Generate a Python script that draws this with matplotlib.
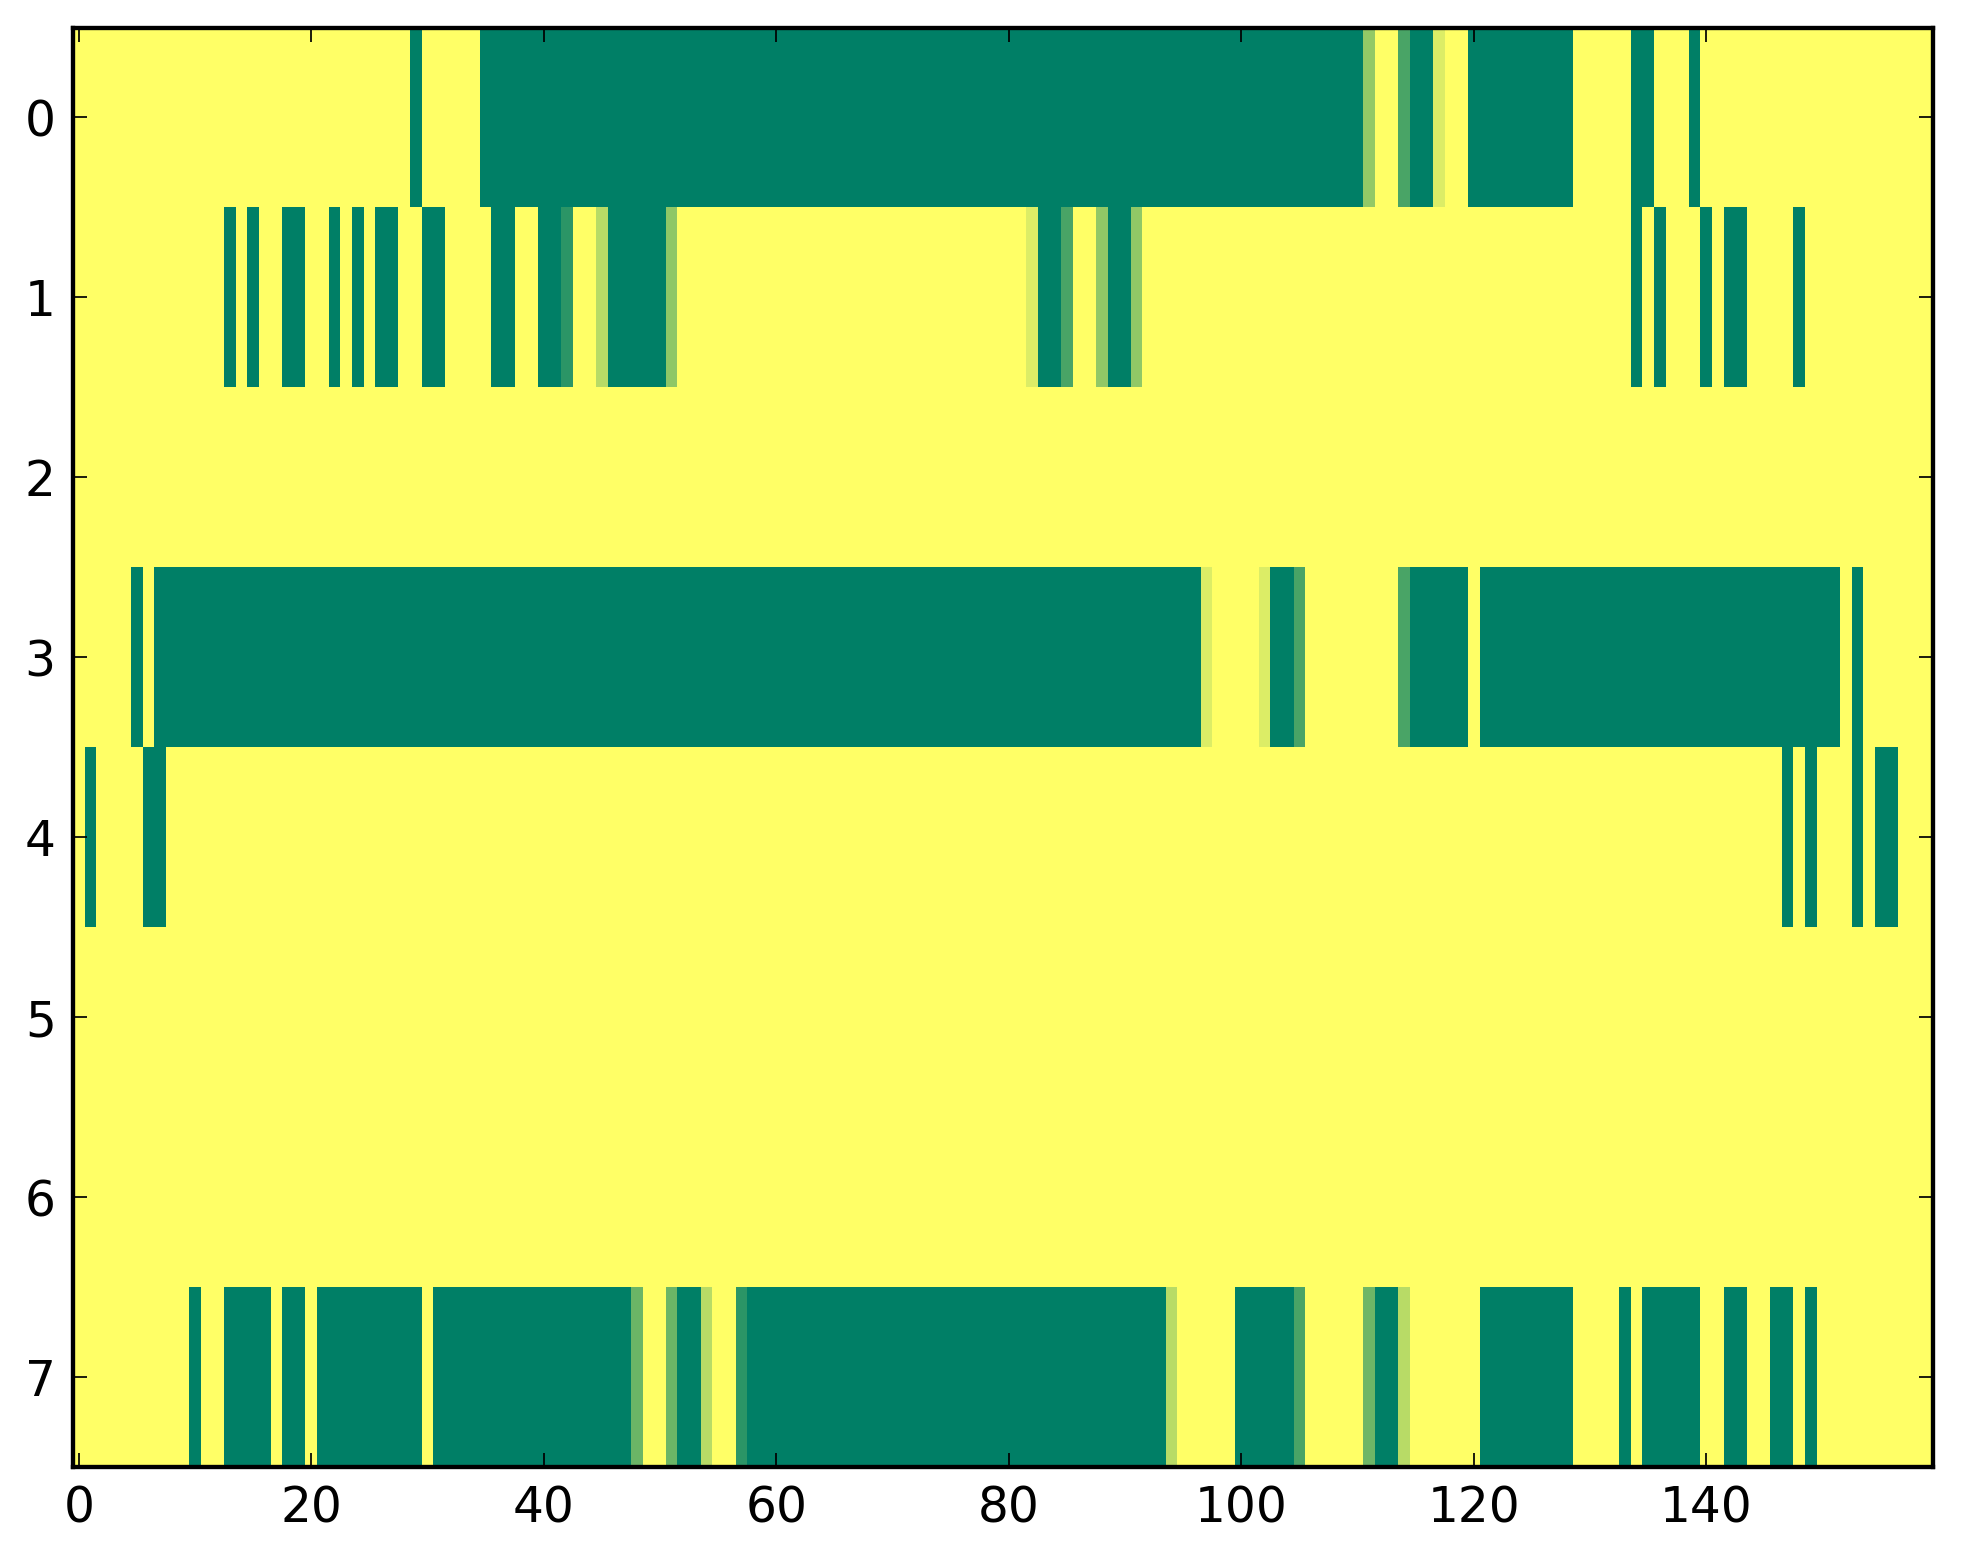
#!/usr/bin/env python

import sys

import matplotlib
matplotlib.use("Agg")
import matplotlib.pyplot as plt
import numpy as np


N_ROWS = 8
N_COLS = 160

# Cells that are not 1.0 (yellow): (first column, last column, value) per row.
row0 = [(29, 29, 0.0), (35, 110, 0.0), (111, 111, 0.58), (114, 114, 0.29),
        (115, 116, 0.0), (117, 117, 0.86), (120, 128, 0.0), (134, 135, 0.0),
        (139, 139, 0.0)]
row1 = [(13, 13, 0.0), (15, 15, 0.0), (18, 19, 0.0), (22, 22, 0.0),
        (24, 24, 0.0), (26, 27, 0.0), (30, 31, 0.0), (36, 37, 0.0),
        (40, 41, 0.0), (42, 42, 0.17), (45, 45, 0.72), (46, 50, 0.0),
        (51, 51, 0.56), (82, 82, 0.86), (83, 84, 0.0), (85, 85, 0.29),
        (88, 88, 0.57), (89, 90, 0.0), (91, 91, 0.57), (134, 134, 0.0),
        (136, 136, 0.0), (140, 140, 0.0), (142, 143, 0.0), (148, 148, 0.0)]
row2 = []
row3 = [(5, 5, 0.0), (7, 96, 0.0), (97, 97, 0.86), (102, 102, 0.86),
        (103, 104, 0.0), (105, 105, 0.29), (114, 114, 0.29), (115, 119, 0.0),
        (121, 151, 0.0), (153, 153, 0.0)]
row4 = [(1, 1, 0.0), (6, 7, 0.0), (147, 147, 0.0), (149, 149, 0.0),
        (153, 153, 0.0), (155, 156, 0.0)]
row5 = []
row6 = []
row7 = [(10, 10, 0.0), (13, 16, 0.0), (18, 19, 0.0), (21, 29, 0.0),
        (31, 47, 0.0), (48, 48, 0.42), (51, 51, 0.42), (52, 53, 0.0),
        (54, 54, 0.72), (57, 57, 0.17), (58, 93, 0.0), (94, 94, 0.72),
        (100, 104, 0.0), (105, 105, 0.29), (111, 111, 0.43), (112, 113, 0.0),
        (114, 114, 0.72), (121, 128, 0.0), (133, 133, 0.0), (135, 139, 0.0),
        (142, 143, 0.0), (146, 147, 0.0), (149, 149, 0.0)]

x_ticks = [0, 20, 40, 60, 80, 100, 120, 140]
y_ticks = [0, 1, 2, 3, 4, 5, 6, 7]


def main(argv):
    rows = [row0, row1, row2, row3, row4, row5, row6, row7]
    grid = np.ones((N_ROWS, N_COLS))
    for r, runs in enumerate(rows):
        for start, stop, value in runs:
            grid[r, start:stop + 1] = value

    plt.rcParams['font.size'] = 14
    fig = plt.figure(figsize=(1963 / 250, 1564 / 250), dpi=250)
    ax = fig.add_axes([0.0372, 0.062, 0.9475, 0.9204])
    ax.imshow(grid, cmap='summer', vmin=0, vmax=1, aspect='auto',
              interpolation='nearest')

    ax.set_xticks(x_ticks)
    ax.set_yticks(y_ticks)
    ax.tick_params(direction='in', top=True, right=True, length=4,
                   width=0.5, pad=5)
    for spine in ax.spines.values():
        spine.set_linewidth(1.25)

    fig.savefig("out.png", dpi=250)


if __name__ == "__main__":
    sys.exit(main(sys.argv))
